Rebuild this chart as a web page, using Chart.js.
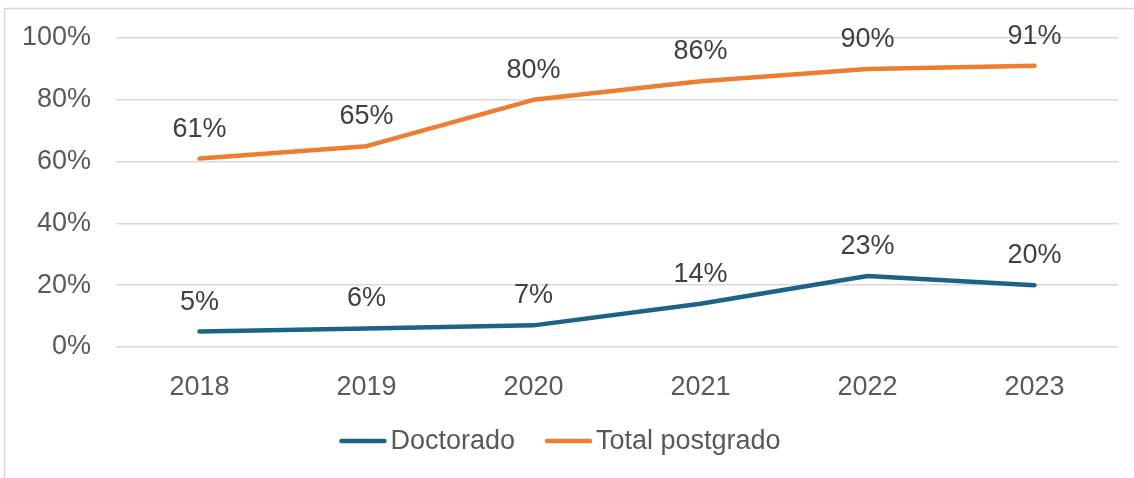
<!DOCTYPE html>
<html>
<head>
<meta charset="utf-8">
<script src="https://cdn.jsdelivr.net/npm/chart.js@4"></script>
<style>
  html, body { margin: 0; padding: 0; background: #fff; }
  #wrap { width: 1134px; height: 478px; }
</style>
</head>
<body>
<div id="wrap"><canvas id="chart" width="1134" height="478"></canvas></div>
<script>
const years = ['2018', '2019', '2020', '2021', '2022', '2023'];
const doctorado = [5, 6, 7, 14, 23, 20];
const totalPostgrado = [61, 65, 80, 86, 90, 91];
const yTicks = [0, 20, 40, 60, 80, 100];

const FONT = '"Liberation Sans", Arial, sans-serif';
const AXIS_COLOR = '#595959';
const LABEL_COLOR = '#404040';

// outer frame (chart is cropped on the right and bottom)
const framePlugin = {
  id: 'frame',
  beforeDraw(chart) {
    const c = chart.ctx;
    c.save();
    c.strokeStyle = '#d9d9d9';
    c.lineWidth = 1.5;
    c.beginPath();
    c.moveTo(4.5, chart.height);
    c.lineTo(4.5, 8.5);
    c.lineTo(chart.width, 8.5);
    c.stroke();
    c.restore();
  }
};

// percentage labels above each point
const valueLabels = {
  id: 'valueLabels',
  afterDatasetsDraw(chart) {
    const c = chart.ctx;
    c.save();
    c.font = '27px ' + FONT;
    c.fillStyle = LABEL_COLOR;
    c.textAlign = 'center';
    c.textBaseline = 'alphabetic';
    chart.data.datasets.forEach((ds, i) => {
      chart.getDatasetMeta(i).data.forEach((pt, j) => {
        c.fillText(ds.data[j] + '%', pt.x, pt.y - 22);
      });
    });
    c.restore();
  }
};

// legend drawn with a short gap between line sample and text
const lineLegend = {
  id: 'lineLegend',
  afterDraw(chart) {
    const c = chart.ctx;
    c.save();
    c.font = '27px ' + FONT;
    const sample = 47, gap = 4, between = 30;
    const items = chart.data.datasets.map(ds => ({
      text: ds.label, color: ds.borderColor,
      w: sample + gap + c.measureText(ds.label).width
    }));
    const total = items.reduce((s, it) => s + it.w, 0) + between * (items.length - 1);
    let x = 560 - total / 2;
    const y = 441;
    items.forEach(it => {
      c.strokeStyle = it.color;
      c.lineWidth = 4.5;
      c.lineCap = 'round';
      c.beginPath();
      c.moveTo(x + 2, y);
      c.lineTo(x + sample - 2, y);
      c.stroke();
      c.fillStyle = AXIS_COLOR;
      c.textAlign = 'left';
      c.textBaseline = 'middle';
      c.fillText(it.text, x + sample + gap, y + 1);
      x += it.w + between;
    });
    c.restore();
  }
};

new Chart(document.getElementById('chart'), {
  type: 'line',
  data: {
    labels: years,
    datasets: [
      {
        label: 'Doctorado',
        data: doctorado,
        borderColor: '#1d6386',
        backgroundColor: '#1d6386',
        borderWidth: 4.5,
        borderCapStyle: 'round',
        borderJoinStyle: 'round',
        pointRadius: 0,
        tension: 0
      },
      {
        label: 'Total postgrado',
        data: totalPostgrado,
        borderColor: '#ed7d31',
        backgroundColor: '#ed7d31',
        borderWidth: 4.5,
        borderCapStyle: 'round',
        borderJoinStyle: 'round',
        pointRadius: 0,
        tension: 0
      }
    ]
  },
  options: {
    responsive: false,
    animation: false,
    devicePixelRatio: 1,
    layout: { padding: { left: 0, right: 16, top: 38, bottom: 0 } },
    plugins: {
      legend: { display: false },
      tooltip: { enabled: false }
    },
    scales: {
      x: {
        offset: true,
        grid: { display: false, drawTicks: false },
        border: { display: false },
        ticks: { color: AXIS_COLOR, font: { family: FONT, size: 27 }, padding: 24, maxRotation: 0 },
        afterFit(s) { s.height = 131; }
      },
      y: {
        min: 0,
        max: 100,
        afterBuildTicks(s) { s.ticks = yTicks.map(v => ({ value: v })); },
        grid: { color: '#d9d9d9', lineWidth: 1.5, drawTicks: false },
        border: { display: false },
        ticks: {
          color: AXIS_COLOR,
          font: { family: FONT, size: 27 },
          padding: 25,
          callback: v => v + '%'
        },
        afterFit(s) {
          s.width = 116;
          s.paddingTop = 0;
          s.paddingBottom = 0;
        }
      }
    }
  },
  plugins: [framePlugin, valueLabels, lineLegend]
});
</script>
</body>
</html>
